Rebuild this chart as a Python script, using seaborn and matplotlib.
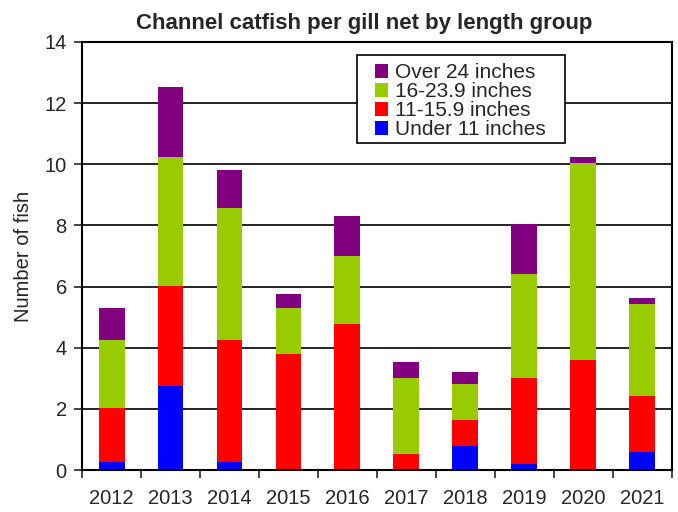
import matplotlib
matplotlib.use("Agg")
import matplotlib.pyplot as plt
from matplotlib.patches import Rectangle
import numpy as np
import seaborn as sns

# Data (fish per gill net)
years = ['2012', '2013', '2014', '2015', '2016', '2017', '2018', '2019', '2020', '2021']
under_11 = [0.26, 2.75, 0.26, 0.0, 0.0, 0.0, 0.78, 0.20, 0.0, 0.59]
in_11_15 = [1.77, 3.26, 3.99, 3.79, 4.77, 0.52, 0.85, 2.81, 3.59, 1.83]
in_16_23 = [2.22, 4.23, 4.31, 1.50, 2.22, 2.49, 1.18, 3.40, 6.45, 3.00]
over_24 = [1.04, 2.29, 1.24, 0.46, 1.31, 0.52, 0.39, 1.63, 0.20, 0.20]

groups = [
    ('Under 11 inches', under_11, '#0000FF'),
    ('11-15.9 inches', in_11_15, '#FF0000'),
    ('16-23.9 inches', in_16_23, '#99CC00'),
    ('Over 24 inches', over_24, '#800080'),
]

sns.set_style('white')
plt.rcParams['font.family'] = ['Liberation Sans', 'DejaVu Sans']

fig, ax = plt.subplots(figsize=(6.78, 5.12), dpi=100)
fig.subplots_adjust(left=0.121, right=0.991, top=0.918, bottom=0.082)

# horizontal gridlines behind the bars
ax.set_axisbelow(True)
ax.yaxis.grid(True, color='black', linewidth=1.2)

bottom = np.zeros(len(years))
for name, vals, col in groups:
    sns.barplot(x=years, y=vals, bottom=bottom, color=col, width=0.44,
                linewidth=0, ax=ax, label=name, saturation=1)
    bottom = bottom + np.array(vals)

ax.set_ylim(0, 14)
ax.set_xlim(-0.5, len(years) - 0.5)
ax.set_yticks(range(0, 15, 2))
ax.tick_params(axis='y', direction='out', length=6, width=1.2, labelsize=14.5,
               left=True, pad=5)
ax.tick_params(axis='x', which='major', length=0, labelsize=14.5, pad=14)
ax.set_xticks(np.arange(-0.5, len(years), 1), minor=True)
ax.tick_params(axis='x', which='minor', direction='out', length=6, width=1.2, bottom=True)

for s in ax.spines.values():
    s.set_color('black')
    s.set_linewidth(1.5)

ax.set_xlabel('')
ax.set_ylabel('Number of fish', fontsize=14.5, labelpad=8)
ax.set_title('Channel catfish per gill net by length group', fontsize=16,
             fontweight='bold', pad=9, x=0.478)

# legend box drawn by hand so the padding matches (wider on the left)
ax.add_patch(Rectangle((0.466, 0.764), 0.353, 0.206, transform=ax.transAxes,
                       facecolor='white', edgecolor='black', linewidth=1.2,
                       zorder=4))
handles, labels = ax.get_legend_handles_labels()
leg = ax.legend(handles[::-1], labels[::-1], loc='upper left',
                bbox_to_anchor=(0.497, 0.950), fontsize=15, frameon=False,
                handlelength=0.6, handleheight=0.6, handletextpad=0.35,
                labelspacing=0.0, borderpad=0, borderaxespad=0)
leg.set_zorder(5)

fig.savefig('out.png', dpi=100)
